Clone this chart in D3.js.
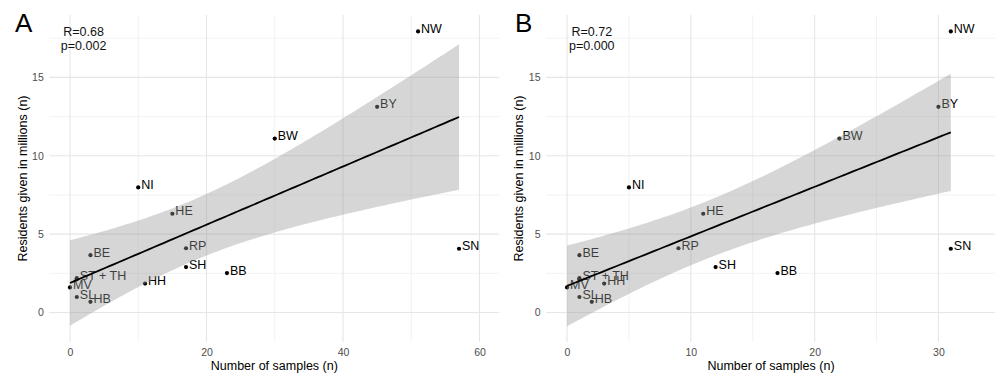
<!DOCTYPE html>
<html>
<head>
<meta charset="utf-8">
<script src="https://cdn.jsdelivr.net/npm/d3@7"></script>
<style>
  html, body { margin: 0; padding: 0; background: #ffffff; }
  svg { display: block; font-family: "Liberation Sans", Arial, sans-serif; }
</style>
</head>
<body>
<svg id="chart" width="995" height="376"></svg>
<script>
// ---------- data ----------
const states = ["NW", "BY", "BW", "SN", "NI", "HE", "RP", "SH", "BB", "HH", "BE", "ST", "TH", "MV", "SL", "HB"];
const pointLabels = ["NW", "BY", "BW", "SN", "NI", "HE", "RP", "SH", "BB", "HH", "BE", "ST + TH", "", "MV", "SL", "HB"];
const residents = [17.93, 13.12, 11.1, 4.07, 7.98, 6.3, 4.1, 2.9, 2.52, 1.85, 3.66, 2.19, 2.12, 1.6, 0.99, 0.68];
const samplesA = [51, 45, 30, 57, 10, 15, 17, 17, 23, 11, 3, 1, 1, 0, 1, 3];
const samplesB = [31, 30, 22, 31, 5, 11, 9, 12, 17, 3, 1, 1, 1, 0, 1, 2];
const statsA = ["R=0.68", "p=0.002"];
const statsB = ["R=0.72", "p=0.000"];
const xTicksA = [0, 20, 40, 60];
const xMinorA = [10, 30, 50];
const xTicksB = [0, 10, 20, 30];
const xMinorB = [5, 15, 25];
const yTicks = [0, 5, 10, 15];
const yMinor = [2.5, 7.5, 12.5, 17.5];
const panelLabels = ["A", "B"];
const xTitle = "Number of samples (n)";
const yTitle = "Residents given in millions (n)";

// ---------- layout ----------
const svg = d3.select("#chart");
const pTop = 15, pBottom = 342;
const yDomain = [-1.88, 18.98];
const y = d3.scaleLinear().domain(yDomain).range([pBottom, pTop]);

function linFit(xs, ys) {
  const n = xs.length;
  const mx = d3.mean(xs), my = d3.mean(ys);
  let sxx = 0, sxy = 0;
  for (let i = 0; i < n; i++) { sxx += (xs[i] - mx) ** 2; sxy += (xs[i] - mx) * (ys[i] - my); }
  const b = sxy / sxx, a = my - b * mx;
  let sse = 0;
  for (let i = 0; i < n; i++) sse += (ys[i] - a - b * xs[i]) ** 2;
  const s = Math.sqrt(sse / (n - 2));
  const t = 2.1448; // t quantile 0.975, df = 14
  const x0 = d3.min(xs), x1 = d3.max(xs);
  return d3.range(80).map(i => {
    const xv = x0 + (x1 - x0) * i / 79;
    const fit = a + b * xv;
    const se = s * Math.sqrt(1 / n + (xv - mx) ** 2 / sxx);
    return { x: xv, fit, lo: fit - t * se, hi: fit + t * se };
  });
}

function drawPanel(cfg) {
  const x = d3.scaleLinear().domain(cfg.xDomain).range([cfg.left, cfg.left + 450]);
  const g = svg.append("g");
  const [x0, x1] = x.range();

  // grid
  g.selectAll(".hmin").data(yMinor).join("line")
    .attr("x1", x0).attr("x2", x1).attr("y1", d => y(d)).attr("y2", d => y(d))
    .attr("stroke", "#f2f2f2").attr("stroke-width", 1);
  g.selectAll(".vmin").data(cfg.xMinor).join("line")
    .attr("y1", pTop).attr("y2", pBottom).attr("x1", d => x(d)).attr("x2", d => x(d))
    .attr("stroke", "#f2f2f2").attr("stroke-width", 1);
  g.selectAll(".hmaj").data(yTicks).join("line")
    .attr("x1", x0).attr("x2", x1).attr("y1", d => y(d)).attr("y2", d => y(d))
    .attr("stroke", "#e6e6e6").attr("stroke-width", 1.1);
  g.selectAll(".vmaj").data(cfg.xTicks).join("line")
    .attr("y1", pTop).attr("y2", pBottom).attr("x1", d => x(d)).attr("x2", d => x(d))
    .attr("stroke", "#e6e6e6").attr("stroke-width", 1.1);

  // axes (labels only)
  const ax = g.append("g").attr("transform", `translate(0,${pBottom})`)
    .call(d3.axisBottom(x).tickValues(cfg.xTicks).tickSize(0).tickPadding(7));
  const ay = g.append("g").attr("transform", `translate(${x0},0)`)
    .call(d3.axisLeft(y).tickValues(yTicks).tickSize(0).tickPadding(5.5));
  [ax, ay].forEach(a => {
    a.select(".domain").remove();
    a.selectAll("text").attr("fill", "#4d4d4d").style("font-size", "10.5px")
      .style("font-family", "'Liberation Sans', Arial, sans-serif");
  });

  // axis titles
  g.append("text").attr("x", (x0 + x1) / 2).attr("y", 370)
    .attr("text-anchor", "middle").attr("font-size", 12.5).attr("fill", "#000").text(xTitle);
  g.append("text").attr("transform", `translate(${x0 - 22.6},${(pTop + pBottom) / 2}) rotate(-90)`)
    .attr("text-anchor", "middle").attr("font-size", 12.5).attr("fill", "#000").text(yTitle);

  // panel tag
  g.append("text").attr("x", cfg.tagX).attr("y", 32).attr("font-size", 26)
    .attr("fill", "#000").text(cfg.tag);

  // stats annotation
  const st = g.append("text").attr("x", x(2)).attr("y", y(17.5))
    .attr("text-anchor", "middle").attr("font-size", 12.5).attr("fill", "#111");
  st.selectAll("tspan").data(cfg.stats).join("tspan")
    .attr("x", x(2)).attr("dy", (d, i) => i === 0 ? "-0.16em" : "1.08em").text(d => d);

  const data = states.map((s, i) => ({ s, lab: pointLabels[i], xv: cfg.xs[i], yv: residents[i] }));

  // points
  g.selectAll(".pt").data(data).join("circle")
    .attr("cx", d => x(d.xv)).attr("cy", d => y(d.yv)).attr("r", 2.1).attr("fill", "#000");
  // labels
  g.selectAll(".lb").data(data.filter(d => d.lab)).join("text")
    .attr("x", d => x(d.xv) + 3).attr("y", d => y(d.yv) + 1.6)
    .attr("font-size", 12.5).attr("fill", "#000").text(d => d.lab);

  // smooth
  const fit = linFit(cfg.xs, residents);
  g.append("path").datum(fit)
    .attr("d", d3.area().x(d => x(d.x)).y0(d => y(d.lo)).y1(d => y(d.hi)))
    .attr("fill", "#999999").attr("fill-opacity", 0.4);
  g.append("path").datum(fit)
    .attr("d", d3.line().x(d => x(d.x)).y(d => y(d.fit)))
    .attr("fill", "none").attr("stroke", "#000").attr("stroke-width", 1.8);
}

drawPanel({ xs: samplesA, xDomain: [-3.03, 62.9], left: 49.3, xTicks: xTicksA, xMinor: xMinorA,
  stats: statsA, tag: panelLabels[0], tagX: 15 });
drawPanel({ xs: samplesB, xDomain: [-1.7, 34.65], left: 546, xTicks: xTicksB, xMinor: xMinorB,
  stats: statsB, tag: panelLabels[1], tagX: 515 });
</script>
</body>
</html>
